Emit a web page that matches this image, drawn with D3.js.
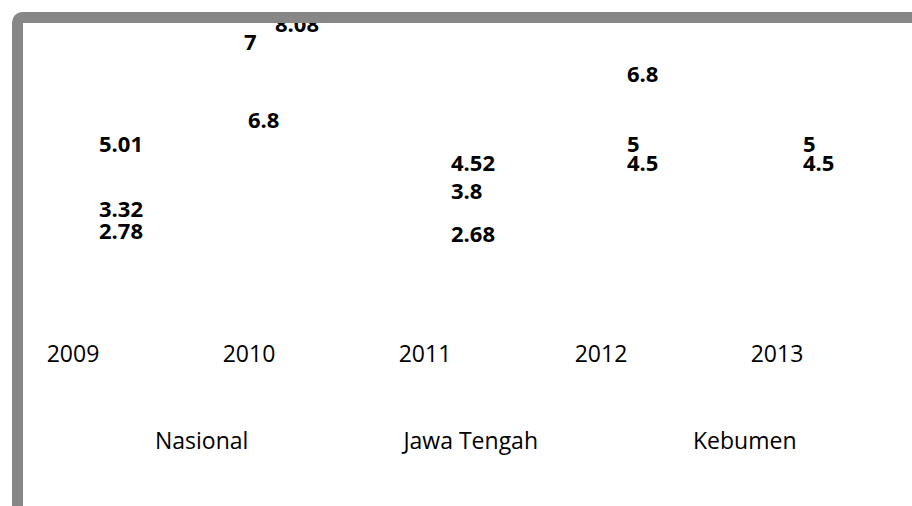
<!DOCTYPE html>
<html>
<head>
<meta charset="utf-8">
<script src="https://cdn.jsdelivr.net/npm/d3@7"></script>
<style>
  body { margin: 0; background: #fff; }
  svg { display: block; }
</style>
</head>
<body>
<svg id="chart"></svg>
<script>
// Years on the category axis
const years = ["2009", "2010", "2011", "2012", "2013"];

// Series names (legend order)
const seriesNames = ["Nasional", "Jawa Tengah", "Kebumen"];

// Values per series, one per year (null = no value)
const nasional = [2.78, 7, 3.8, 4.5, 4.5];
const jawaTengah = [3.32, 6.8, 2.68, 5, 5];
const kebumen = [5.01, 8.08, 4.52, 6.8, null];

// Labels that were dragged away from their point in the original
const labelNudge = {
    "Nasional-2010": [-31, -24],
    "Jawa Tengah-2010": [-27, 46]
};

const dimensions = { width: 912, height: 506 };

const svg = d3.select("#chart")
    .attr("width", dimensions.width)
    .attr("height", dimensions.height)
    .style("font-family", "'Open Sans', sans-serif");

svg.append("rect")
    .attr("width", dimensions.width)
    .attr("height", dimensions.height)
    .attr("fill", "#fff");

var xScale = d3.scalePoint()
    .domain(years)
    .range([73, 777]);

var yScale = d3.scaleLinear()
    .domain([0, 8])
    .range([339, 27]);

// Flatten into one list of labels
const seriesValues = [nasional, jawaTengah, kebumen];
const labels = [];
seriesNames.forEach((name, si) => {
    seriesValues[si].forEach((v, i) => {
        if (v == null) return;
        const nudge = labelNudge[name + "-" + years[i]] || [0, 0];
        labels.push({ series: name, year: years[i], value: v, dx: nudge[0], dy: nudge[1] });
    });
});

// Data labels (the only marks that show)
svg.append("g")
    .selectAll("text")
    .data(labels)
    .enter()
    .append("text")
    .attr("x", d => xScale(d.year) + 26 + d.dx)
    .attr("y", d => yScale(d.value) + d.dy)
    .attr("dy", "0.36em")
    .attr("font-size", 22)
    .attr("font-weight", "bold")
    .attr("fill", "#000")
    .text(d => d.value);

// Category labels
svg.append("g")
    .selectAll("text")
    .data(years)
    .enter()
    .append("text")
    .attr("x", d => xScale(d))
    .attr("y", 354)
    .attr("dy", "0.36em")
    .attr("text-anchor", "middle")
    .attr("font-size", 23)
    .attr("fill", "#000")
    .text(d => d);

// Legend (entries laid out one after another)
const legend = svg.append("g");
let legendX = 155;
seriesNames.forEach(name => {
    const t = legend.append("text")
        .attr("x", legendX)
        .attr("y", 441)
        .attr("dy", "0.36em")
        .attr("font-size", 23)
        .attr("fill", "#000")
        .text(name);
    legendX += t.node().getComputedTextLength() + 155;
});

// Grey chart frame, runs off the right and bottom edges
svg.append("rect")
    .attr("x", 17.5)
    .attr("y", 17.5)
    .attr("width", 1000)
    .attr("height", 1000)
    .attr("rx", 5)
    .attr("fill", "none")
    .attr("stroke", "#878787")
    .attr("stroke-width", 11);
</script>
</body>
</html>
